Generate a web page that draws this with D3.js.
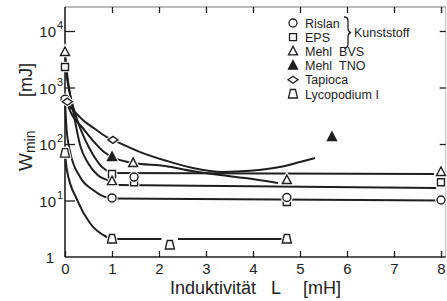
<!DOCTYPE html>
<html>
<head>
<meta charset="utf-8">
<script src="https://cdn.jsdelivr.net/npm/d3@7"></script>
<style>
  body { margin: 0; background: #fff; }
  svg text { font-family: "Liberation Sans", Arial, sans-serif; fill: #222; }
</style>
</head>
<body>
<svg width="447" height="301"></svg>
<script>
// values: [L in mH, Wmin in mJ]
const xTicks = [0, 1, 2, 3, 4, 5, 6, 7, 8];
const yTicks = [1, 10, 100, 1000, 10000];
const yTickLabels = [["1", ""], ["10", "1"], ["10", "2"], ["10", "3"], ["10", "4"]];

const rislanCurve = [[0, 620], [0.03, 200], [0.1, 78], [0.32, 26], [0.6, 15.3], [0.85, 11.6], [1, 11.1]];
const rislanLine = [[1, 10.8], [8, 10.0]];
const rislanPts = [[0, 620], [1, 11.1], [1.47, 26], [4.72, 11.3], [8, 10.2]];

const epsCurve = [[0, 2300], [0.11, 736], [0.26, 266], [0.43, 118], [0.6, 64], [0.79, 39], [1, 30.7]];
const epsLine = [[1, 30.7], [7.85, 29.4]];
const epsPts = [[0, 2300], [1, 29.5], [1.47, 21], [4.72, 9.4], [8, 21]];

const bvsCurve = [[0, 4250], [0.06, 1360], [0.15, 490], [0.23, 217], [0.32, 96], [0.49, 46], [0.7, 28], [1, 22]];
const bvsLine = [[1.1, 18.8], [7.9, 16.6]];
const bvsPts = [[0, 4250], [1, 22], [1.45, 46], [4.72, 23], [8, 32]];

const tnoCurve = [[0.02, 600], [0.15, 326], [0.36, 200], [0.64, 104], [0.83, 72], [1, 59],
                  [1.45, 46], [2.13, 40.8], [2.7, 33.3], [3.3, 28.3], [3.83, 25], [4.53, 20.4]];
const tnoPts = [[1, 59], [5.68, 133]];

const tapiocaCurve = [[0.06, 510], [0.21, 368], [0.38, 266], [0.64, 184], [0.89, 133], [1.02, 118],
                      [1.6, 72], [2.17, 50], [2.72, 37.6], [3.36, 32], [3.94, 33.5], [4.57, 39], [5.0, 48], [5.32, 56.5]];
const tapiocaPts = [[0.05, 560], [1.02, 118]];

const lycoCurve = [[0, 69], [0.04, 35], [0.26, 10.2], [0.53, 4.0], [0.89, 2.26], [1, 2.08]];
const lycoLines = [[[1, 2.08], [2.05, 2.08]], [[2.4, 2.08], [4.7, 2.08]]];
const lycoPts = [[0, 69], [1, 2.08], [2.23, 1.63], [4.72, 2.08]];

const legendNames = ["Rislan", "EPS", "Mehl\u00a0\u00a0BVS", "Mehl\u00a0\u00a0TNO", "Tapioca", "Lycopodium I"];
const legendSymbols = ["circle", "square", "triangle", "triangleFilled", "diamond", "trapezoid"];

const ink = "#1e1e1e";
const svg = d3.select("svg");

const x = d3.scaleLinear().domain([0, 8]).range([65, 441]);
const y = d3.scaleLog().domain([1, 1e4]).range([257, 31]);
const yTop = 26600, xRight = 8.1;

// frame
svg.append("line")
    .attr("x1", x(0)).attr("x2", x(xRight)).attr("y1", y(yTop)).attr("y2", y(yTop))
    .attr("stroke", "#777").attr("stroke-width", 1.2);
svg.append("line")
    .attr("x1", x(xRight)).attr("x2", x(xRight)).attr("y1", y(yTop)).attr("y2", y(1))
    .attr("stroke", "#bbb").attr("stroke-width", 1);
svg.append("line")
    .attr("x1", x(0)).attr("x2", x(0)).attr("y1", y(yTop)).attr("y2", y(1))
    .attr("stroke", ink).attr("stroke-width", 1.6);
svg.append("line")
    .attr("x1", x(0)).attr("x2", x(xRight)).attr("y1", y(1)).attr("y2", y(1))
    .attr("stroke", ink).attr("stroke-width", 1.6);

// axes (ticks only, the lines come from the frame)
const gx = svg.append("g")
    .attr("transform", `translate(0,${y(1)})`)
    .call(d3.axisBottom(x).tickValues(xTicks).tickSize(-6).tickSizeOuter(0).tickPadding(6));
gx.select(".domain").remove();
gx.selectAll("text").style("font-size", "15px").attr("fill", ink);

const gTop = svg.append("g")
    .attr("transform", `translate(0,${y(yTop)})`)
    .call(d3.axisTop(x).tickValues(xTicks.slice(1)).tickSize(-6).tickFormat(""));
gTop.select(".domain").remove();

const gy = svg.append("g")
    .attr("transform", `translate(${x(0)},0)`)
    .call(d3.axisLeft(y).tickValues(yTicks.slice(1)).tickSize(-10).tickSizeOuter(0).tickFormat(""));
gy.select(".domain").remove();

const gRight = svg.append("g")
    .attr("transform", `translate(${x(xRight)},0)`)
    .call(d3.axisRight(y).tickValues(yTicks.slice(1)).tickSize(-6).tickFormat(""));
gRight.select(".domain").remove();

svg.selectAll(".tick line").attr("stroke", ink).attr("stroke-width", 1.3);

svg.selectAll(".ylab")
    .data(yTicks)
    .enter().append("text")
    .attr("class", "ylab")
    .attr("x", (d, i) => i === 0 ? 54 : 56)
    .attr("y", d => y(d) + 6)
    .attr("text-anchor", "end")
    .style("font-size", "15px")
    .text((d, i) => yTickLabels[i][0]);
svg.selectAll(".ysup")
    .data(yTicks.slice(1))
    .enter().append("text")
    .attr("class", "ysup")
    .attr("x", 57)
    .attr("y", d => y(d) - 2)
    .style("font-size", "11px")
    .text((d, i) => yTickLabels[i + 1][1]);

// axis titles
svg.append("text").attr("x", 170).attr("y", 294).style("font-size", "18px").text("Induktivität");
svg.append("text").attr("x", 271).attr("y", 294).style("font-size", "18px").text("L");
svg.append("text").attr("x", 303).attr("y", 294).style("font-size", "18px").text("[mH]");

const wt = svg.append("text")
    .attr("transform", "translate(32,171) rotate(-90)")
    .style("font-size", "19px");
wt.append("tspan").text("W");
wt.append("tspan").attr("dy", 3).style("font-size", "14px").text("min");
svg.append("text")
    .attr("transform", "translate(32,80) rotate(-90)")
    .attr("text-anchor", "middle")
    .style("font-size", "18px")
    .text("[mJ]");

// curves
const curve = d3.line().x(d => x(d[0])).y(d => y(d[1])).curve(d3.curveMonotoneX);
const straight = d3.line().x(d => x(d[0])).y(d => y(d[1]));

const curves = [rislanCurve, epsCurve, bvsCurve, tnoCurve, tapiocaCurve, lycoCurve];
const lines = [rislanLine, epsLine, bvsLine].concat(lycoLines);

svg.selectAll(".crv")
    .data(curves)
    .enter().append("path")
    .attr("class", "crv")
    .attr("d", curve)
    .attr("fill", "none")
    .attr("stroke", ink)
    .attr("stroke-width", 2);

svg.selectAll(".hl")
    .data(lines)
    .enter().append("path")
    .attr("class", "hl")
    .attr("d", straight)
    .attr("fill", "none")
    .attr("stroke", ink)
    .attr("stroke-width", 2);

// markers
function symbolPath(type) {
    if (type === "circle") return "M-4,0a4,4 0 1,0 8,0a4,4 0 1,0 -8,0Z";
    if (type === "square") return "M-3.5,-3.5H3.5V3.5H-3.5Z";
    if (type === "triangle" || type === "triangleFilled") return "M0,-5L4.5,3.5H-4.5Z";
    if (type === "diamond") return "M-5,0L0,-3.5L5,0L0,3.5Z";
    return "M-2.5,-4.5H2.5L4.5,4H-4.5Z";
}

function drawMarkers(pts, type) {
    const g = svg.append("g");
    g.selectAll("path.halo")
        .data(pts)
        .enter().append("path")
        .attr("class", "halo")
        .attr("transform", d => `translate(${x(d[0])},${y(d[1])})`)
        .attr("d", symbolPath(type))
        .attr("fill", "#fff")
        .attr("stroke", "#fff")
        .attr("stroke-width", 3.5);
    g.selectAll("path.mk")
        .data(pts)
        .enter().append("path")
        .attr("class", "mk")
        .attr("transform", d => `translate(${x(d[0])},${y(d[1])})`)
        .attr("d", symbolPath(type))
        .attr("fill", type === "triangleFilled" ? ink : "#fff")
        .attr("stroke", ink)
        .attr("stroke-width", 1.4);
}

drawMarkers(lycoPts, "trapezoid");
drawMarkers(epsPts, "square");
drawMarkers(rislanPts, "circle");
drawMarkers(bvsPts, "triangle");
drawMarkers(tnoPts, "triangleFilled");
drawMarkers(tapiocaPts, "diamond");

// legend
const legend = svg.append("g");
const rows = legend.selectAll("g")
    .data(legendNames)
    .enter().append("g")
    .attr("transform", (d, i) => `translate(293,${23 + i * 14.2})`);
rows.append("path")
    .attr("d", (d, i) => symbolPath(legendSymbols[i]))
    .attr("fill", (d, i) => legendSymbols[i] === "triangleFilled" ? ink : "#fff")
    .attr("stroke", ink)
    .attr("stroke-width", 1.3);
rows.append("text")
    .attr("x", 12)
    .attr("y", 4.5)
    .style("font-size", "12.5px")
    .text(d => d);

legend.append("path")
    .attr("d", "M344,17q4,0 4,4v7q0,4 3,4.5q-3,0.5 -3,4.5v7q0,4 -4,4")
    .attr("fill", "none")
    .attr("stroke", ink)
    .attr("stroke-width", 1.3);
legend.append("text")
    .attr("x", 354).attr("y", 37)
    .style("font-size", "12.5px")
    .text("Kunststoff");
</script>
</body>
</html>
